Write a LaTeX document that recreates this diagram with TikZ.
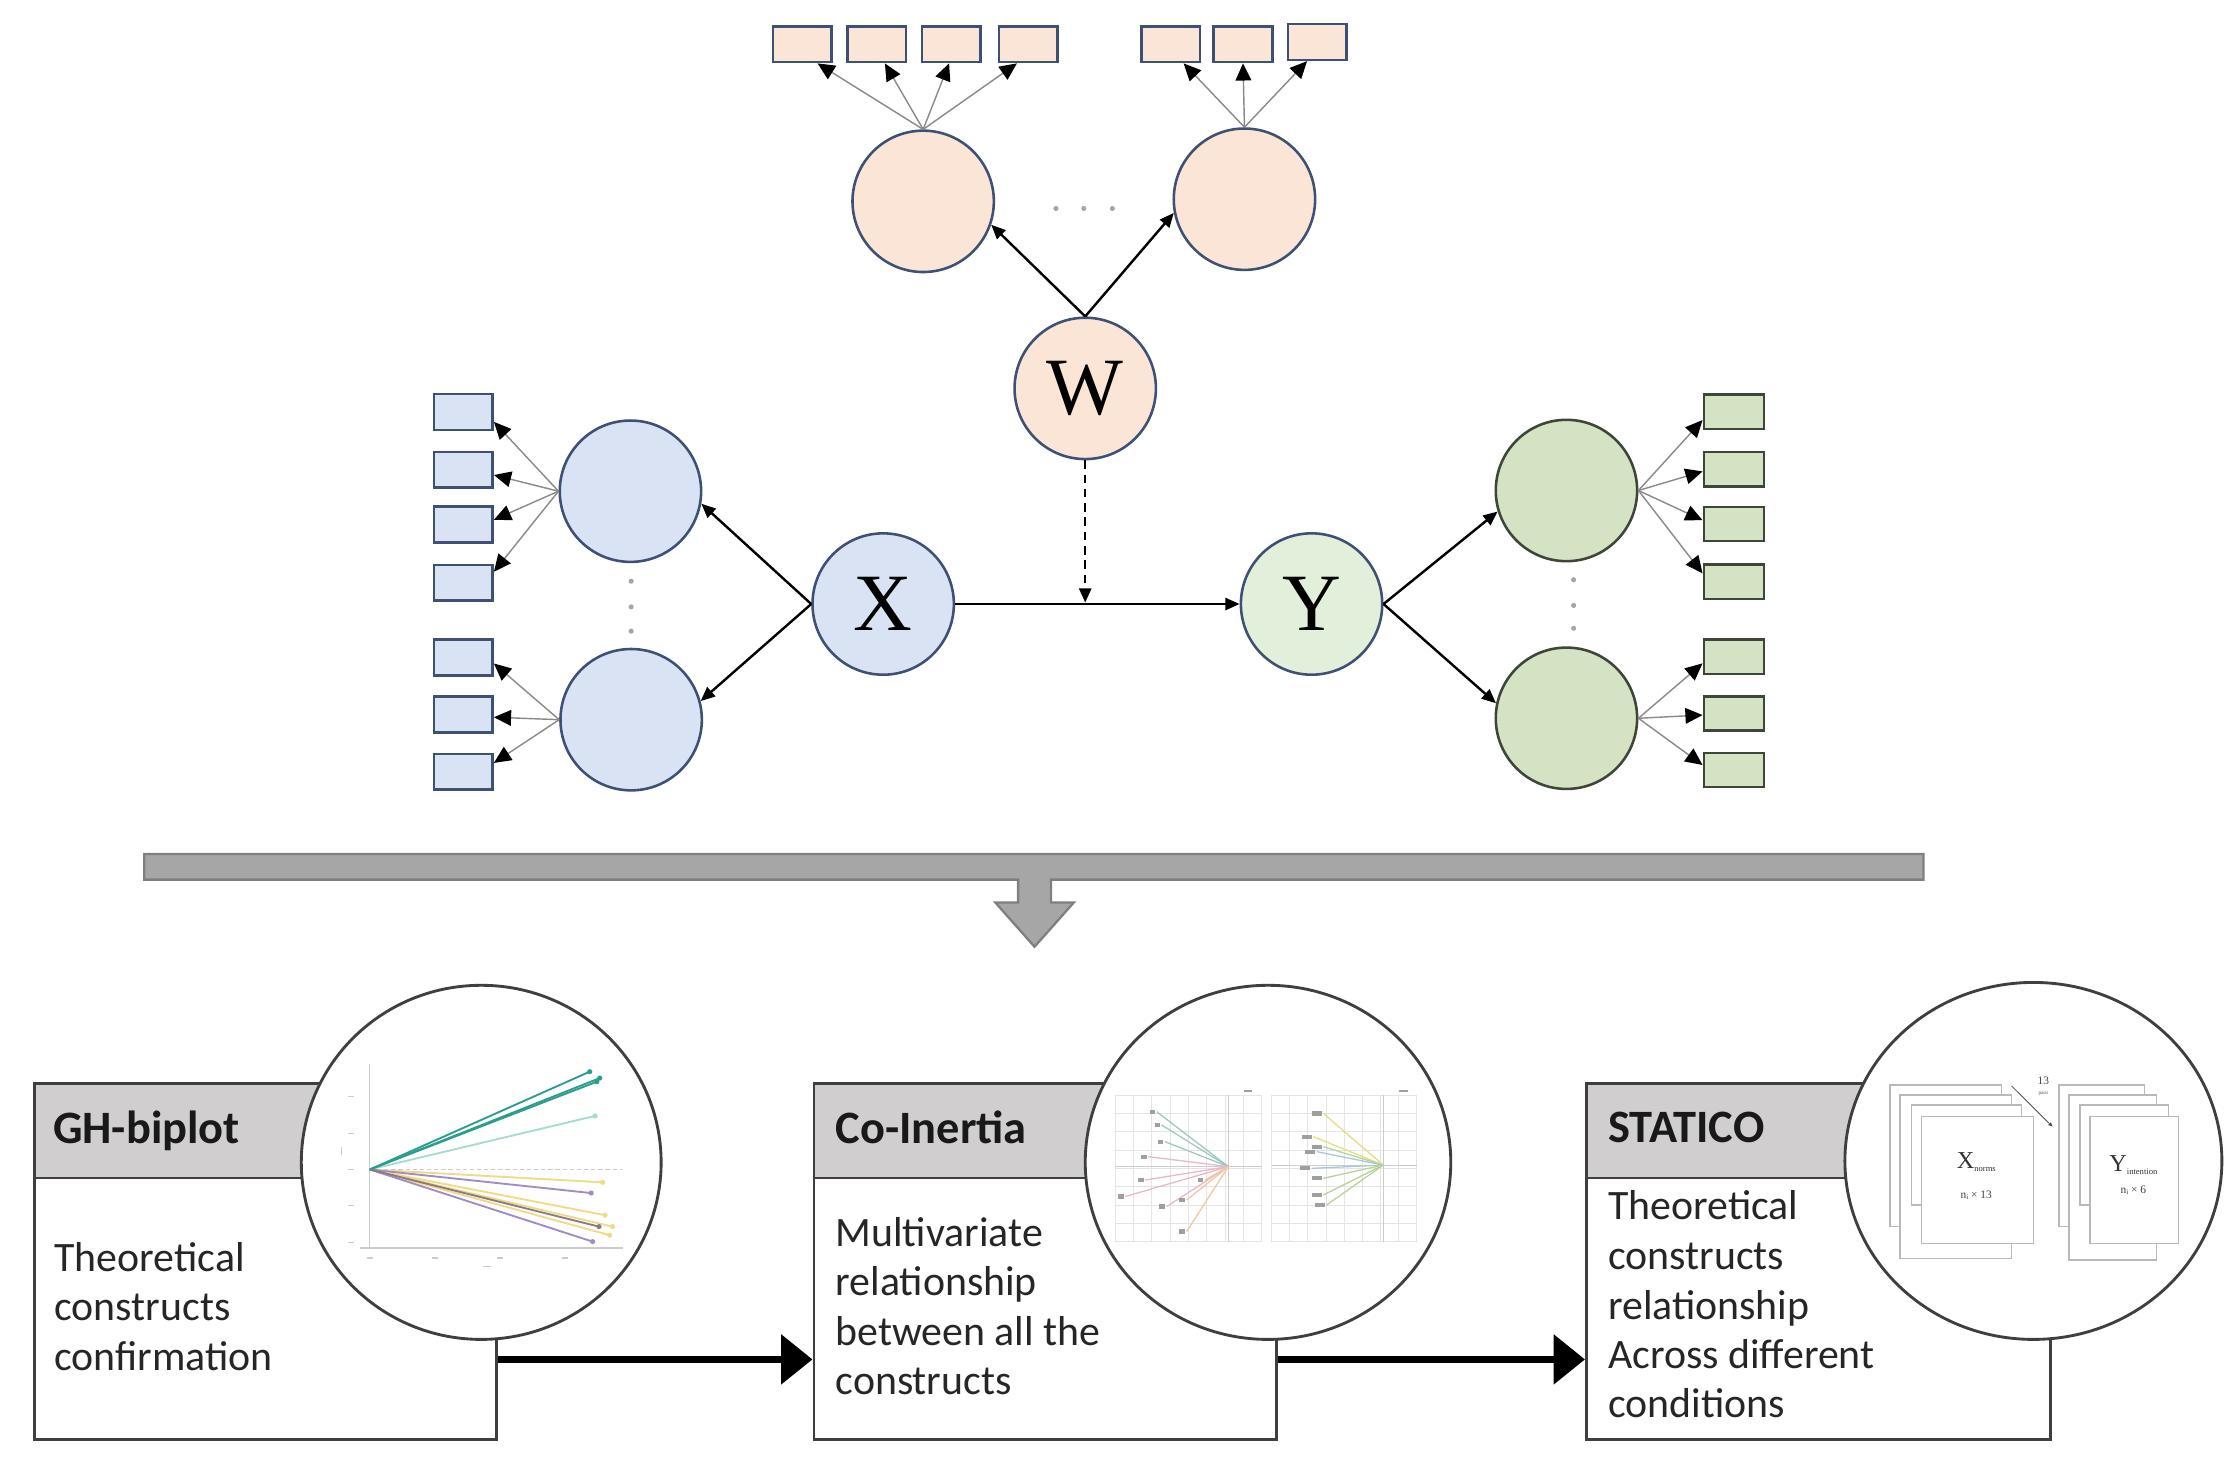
\documentclass[tikz,border=0pt]{standalone}
\usepackage{fontspec}
\setmainfont{Carlito}
\newfontfamily\serifW{Liberation Serif}
\usetikzlibrary{arrows.meta,shapes.geometric}
\definecolor{pinkf}{HTML}{FBE5D6}
\definecolor{bluef}{HTML}{DAE3F3}
\definecolor{greenf}{HTML}{D5E3C5}
\definecolor{ygreen}{HTML}{E2EFDA}
\definecolor{edgeb}{HTML}{3E5074}
\definecolor{edgeg}{HTML}{3D4638}
\definecolor{hdr}{HTML}{D0CECE}
\definecolor{bord}{HTML}{3F3F3F}
\definecolor{loadc}{HTML}{8A8A8A}
\definecolor{bannerf}{HTML}{A6A6A6}
\definecolor{bannerd}{HTML}{7F7F7F}
\definecolor{teal}{HTML}{2A9D8F}
\definecolor{lteal}{HTML}{A6DBD2}
\definecolor{ylw}{HTML}{F1DA86}
\definecolor{purp}{HTML}{9F8CC6}
\definecolor{brn}{HTML}{8C7A80}
\definecolor{gridc}{HTML}{E4E4E4}
\definecolor{ciT}{HTML}{9CCAC0}
\definecolor{ciP}{HTML}{E9B8CB}
\definecolor{ciO}{HTML}{F0C9A2}
\definecolor{ciY}{HTML}{E6DE7E}
\definecolor{ciG}{HTML}{B3D598}
\definecolor{ciB}{HTML}{A9C5E0}
\begin{document}
\begin{tikzpicture}[x=1pt,y=-1pt,
  lat/.style={circle,draw=edgeb,line width=1.8pt,inner sep=0pt,minimum size=99pt},
  latg/.style={lat,draw=edgeg,fill=greenf},
  indp/.style={rectangle,draw=edgeb,line width=1.8pt,fill=pinkf,minimum width=41pt,minimum height=25pt,inner sep=0pt},
  indb/.style={indp,fill=bluef},
  indg/.style={indp,draw=edgeg,fill=greenf,minimum width=42pt,minimum height=24pt},
  load/.style={draw=loadc,line width=1pt,-{Triangle[length=12pt,width=11pt,color=black]}},
  struct/.style={draw=black,line width=1.7pt,-{Triangle[length=10pt,width=8.5pt]}},
  bigarrow/.style={draw=black,line width=5pt,-{Triangle[length=22pt,width=34pt]}},
  boxb/.style={rectangle,draw=bord,line width=2pt,fill=white,inner sep=0pt},
  hdrb/.style={rectangle,draw=bord,line width=2pt,fill=hdr,inner sep=0pt},
  lens/.style={ellipse,draw=bord,line width=2pt,fill=white,inner sep=0pt},
  hdtext/.style={anchor=base west,inner sep=0pt,font=\fontsize{32.5}{32.5}\selectfont\bfseries,text=black!90},
  bodytext/.style={anchor=base west,inner sep=0pt,font=\fontsize{29.3}{29.3}\selectfont,text=black!85},
  letter/.style={font=\fontsize{57}{57}\selectfont\serifW},
  dotc/.style={fill=gray!70},
  mk/.style={fill=gray!75},
]
\useasboundingbox (0,0) rectangle (1568,1036);

% ---------- upper model ----------
\node[lat,fill=pinkf] (pc1) at (646.5,141) {};
\node[lat,fill=pinkf] (pc2) at (871.5,139.5) {};
\node[lat,fill=pinkf,letter] (W) at (760,272) {W};
\node[lat,fill=bluef,letter] (X) at (618.5,423) {X};
\node[lat,fill=ygreen,letter] (Y) at (918.5,423) {Y};
\node[lat,fill=bluef] (bc1) at (441.5,344) {};
\node[lat,fill=bluef] (bc2) at (442,504) {};
\node[latg] (gc1) at (1097,343.5) {};
\node[latg] (gc2) at (1097,503) {};

% pink indicators
\node[indp] (pr1) at (561.7,31) {};
\node[indp] (pr2) at (614,31) {};
\node[indp] (pr3) at (666.3,31) {};
\node[indp] (pr4) at (720.2,31) {};
\node[indp] (pr5) at (819.9,31) {};
\node[indp] (pr6) at (870.5,31) {};
\node[indp] (pr7) at (922.5,29.4) {};
% blue indicators
\foreach \n/\yy in {1/288.5,2/328.9,3/367.4,4/408.2,5/460.5,6/500.4,7/540.4}
  \node[indb] (br\n) at (324.5,\yy) {};
% green indicators
\foreach \n/\yy in {1/288.3,2/328.6,3/367,4/407.4,5/459.9,6/499.6,7/539.2}
  \node[indg] (gr\n) at (1214.2,\yy) {};

% loadings
\foreach \n/\a in {1/-51,2/-67,3/-97,4/-121}
  \draw[load] (pc1.north) -- (pr\n.\a);
\foreach \n/\a in {5/-56,6/-90,7/-118}
  \draw[load] (pc2.north) -- (pr\n.\a);
\foreach \n/\a in {1/-18,2/-10,3/9,4/20}
  \draw[load] (bc1.west) -- (br\n.\a);
\foreach \n/\a in {5/-11,6/-5,7/16}
  \draw[load] (bc2.west) -- (br\n.\a);
\foreach \n/\a in {1/195,2/184,3/173,4/165}
  \draw[load] (gc1.east) -- (gr\n.\a);
\foreach \n/\a in {5/192,6/183,7/171}
  \draw[load] (gc2.east) -- (gr\n.\a);

% structural paths
\draw[struct] (W.north) -- (pc1.-19);
\draw[struct] (W.north) -- (pc2.191);
\draw[struct] (X.west) -- (bc1.-10);
\draw[struct] (X.west) -- (bc2.15);
\draw[struct] (Y.east) -- (gc1.197);
\draw[struct] (Y.east) -- (gc2.168);
\draw[struct] (X.east) -- (Y.west);
\coordinate (mid) at (760,422);
\draw[struct,dash pattern=on 6pt off 4pt] (W.south) -- (mid);

% ellipsis dots
\foreach \xx in {739.5,759,779} \fill[dotc] (\xx,146) circle (1.8pt);
\foreach \yy in {407,425,442} \fill[dotc] (442,\yy) circle (1.8pt);
\foreach \yy in {406,424,440} \fill[dotc] (1102,\yy) circle (1.8pt);

% ---------- banner arrow ----------
\draw[fill=bannerf,draw=bannerd,line width=1.6pt,line join=miter]
  (101,598) -- (1347,598) -- (1347,616) -- (736,616) -- (736,632) -- (752,632)
  -- (724.5,663) -- (697,632) -- (713,632) -- (713,616) -- (101,616) -- cycle;

% ---------- bottom boxes ----------
\node[boxb,minimum width=324pt,minimum height=249pt,anchor=north west] (b1) at (23,758) {};
\node[hdrb,minimum width=324pt,minimum height=66pt,anchor=north west] (h1) at (23,758) {};
\node[boxb,minimum width=324pt,minimum height=249pt,anchor=north west] (b2) at (569,758) {};
\node[hdrb,minimum width=324pt,minimum height=66pt,anchor=north west] (h2) at (569,758) {};
\node[boxb,minimum width=325pt,minimum height=249pt,anchor=north west] (b3) at (1110,758) {};
\node[hdrb,minimum width=325pt,minimum height=66pt,anchor=north west] (h3) at (1110,758) {};

\node[hdtext] (t1) at (37,800.5) {GH-biplot};
\node[hdtext] (t2) at (585,800.5) {Co-Inertia};
\node[hdtext] (t3) at (1126,800) {STATICO};

\node[bodytext] (a1) at (38,890.5) {Theoretical};
\node[bodytext] (a2) at (38,925) {constructs};
\node[bodytext] (a3) at (38,959.5) {confirmation};
\node[bodytext] (m1) at (585,873) {Multivariate};
\node[bodytext] (m2) at (585,907.5) {relationship};
\node[bodytext] (m3) at (585,942) {between all the};
\node[bodytext] (m4) at (585,976.5) {constructs};
\node[bodytext] (s1) at (1126,854) {Theoretical};
\node[bodytext] (s2) at (1126,889) {constructs};
\node[bodytext] (s3) at (1126,924) {relationship};
\node[bodytext] (s4) at (1126,958.5) {Across different};
\node[bodytext] (s5) at (1126,993) {conditions};

\draw[bigarrow] ([yshift=-68.5pt]b1.east) -- ([yshift=-68.5pt]b2.west);
\draw[bigarrow] ([yshift=-68.5pt]b2.east) -- ([yshift=-68.5pt]b3.west);

\node[lens,minimum width=252pt,minimum height=248pt] (c1) at (337,814) {};
\node[lens,minimum width=256pt,minimum height=248pt] (c2) at (888,814) {};
\node[lens,minimum width=264pt,minimum height=250pt] (c3) at (1424,813) {};

% ---------- GH-biplot inset ----------
\begin{scope}[draw=gray!40,line width=0.8pt]
  \draw (259,745) -- (259,874);
  \draw (252,874) -- (436,874);
  \draw[dash pattern=on 3pt off 2pt] (259,819) -- (436,819);
  \foreach \yy in {768,793.5,819,844.5,870} \draw (244,\yy) -- (248,\yy);
  \foreach \xx in {259,304.6,350,395.6} \draw (\xx-2,881) -- (\xx+2,881);
  \draw (239,803) -- (239,809);
  \draw (338,887) -- (344,887);
\end{scope}
\foreach \ex/\ey/\cc in {416.7/781.5/lteal,422/828/ylw,429/859/ylw,427/865/ylw,423.7/851/ylw,414/835.5/purp,415/869.5/purp,419.5/859/brn,413/750.5/teal,420/755/teal,418/757.5/teal}
{
  \draw[\cc,line width=1.3pt] (259,819) -- (\ex,\ey);
  \fill[\cc] (\ex,\ey) circle (1.8pt);
}

% ---------- Co-Inertia inset ----------
\foreach \i in {0,...,8} {
  \draw[gridc,line width=0.6pt] (780.8+\i*12.84,766.8) -- (780.8+\i*12.84,869.5);
  \draw[gridc,line width=0.6pt] (780.8,766.8+\i*12.84) -- (883.5,766.8+\i*12.84);
  \draw[gridc,line width=0.6pt] (890.5+\i*12.69,766.8) -- (890.5+\i*12.69,869.5);
  \draw[gridc,line width=0.6pt] (890.5,766.8+\i*12.84) -- (992,766.8+\i*12.84);
}
\draw[gray!40,line width=0.6pt] (780.8,817) -- (883.5,817) (860.2,766.8) -- (860.2,869.5);
\draw[gray!40,line width=0.6pt] (890.5,815.9) -- (992,815.9) (968.7,766.8) -- (968.7,869.5);
\fill[mk] (871,763) rectangle (877,765);
\fill[mk] (980,763) rectangle (986,765);
\foreach \ex/\ey/\cc in {810/778.5/ciT,813.5/787.8/ciT,815.8/799.5/ciT,804.1/810/ciP,801.8/826.4/ciP,787.8/838/ciP,817/845/ciP,831/840.4/ciO,843.8/826.4/ciO,831/862.5/ciO}
{
  \draw[\cc,line width=0.9pt] (860.2,817) -- (\ex,\ey);
  \fill[mk] (\ex-5,\ey-1.5) rectangle (\ex-1,\ey+1.5);
}
\foreach \ex/\ey/\cc in {926.7/779.7/ciY,919.7/796/ciY,926.7/803/ciG,922/806.5/ciB,918.5/818.2/ciB,926.7/825.2/ciG,926.7/836.9/ciG,929/843.9/ciG}
{
  \draw[\cc,line width=0.9pt] (968.7,815.9) -- (\ex,\ey);
  \fill[mk] (\ex-8,\ey-1.5) rectangle (\ex-1,\ey+1.5);
}

% ---------- STATICO inset ----------
\begin{scope}[draw=gray!55,line width=0.9pt,fill=white]
  \filldraw (1323.5,759.8) rectangle (1401.7,859);
  \filldraw (1330.5,766.8) rectangle (1408.7,881.2);
  \filldraw (1338.7,773.8) rectangle (1415.7,843.9);
  \filldraw (1345.7,782) rectangle (1423.9,870.7);
  \filldraw (1442,759.8) rectangle (1502,859);
  \filldraw (1449,766.8) rectangle (1510.3,882.4);
  \filldraw (1456.6,773.8) rectangle (1518.4,843.9);
  \filldraw (1463.6,782) rectangle (1525.4,870.7);
\end{scope}
\coordinate (sa) at (1408.7,760.5);
\coordinate (sb) at (1437.4,789);
\draw[gray!60!black,line width=0.6pt,-{Triangle[length=3pt,width=2.5pt]}] (sa) -- (sb);
\node[font=\fontsize{8}{8}\selectfont\serifW,text=gray!60!black,inner sep=0pt] (n13) at (1431,757) {13};
\node[font=\fontsize{3.5}{3.5}\selectfont\serifW,text=gray!60!black,inner sep=0pt] (npairs) at (1431,766) {pairs};
\node[font=\fontsize{17}{17}\selectfont\serifW,text=gray!40!black,inner sep=0pt] (xn) at (1384,814)
  {X\raisebox{-2pt}{\fontsize{6}{6}\selectfont norms}};
\node[font=\fontsize{8}{8}\selectfont\serifW,text=gray!50!black,inner sep=0pt] (xd) at (1384,837)
  {n\raisebox{-1pt}{\fontsize{5}{5}\selectfont i} × 13};
\node[font=\fontsize{17}{17}\selectfont\serifW,text=gray!40!black,inner sep=0pt] (yn) at (1494,816)
  {Y\raisebox{-2pt}{\fontsize{6}{6}\selectfont intention}};
\node[font=\fontsize{8}{8}\selectfont\serifW,text=gray!50!black,inner sep=0pt] (yd) at (1494,833.5)
  {n\raisebox{-1pt}{\fontsize{5}{5}\selectfont i} × 6};
\end{tikzpicture}
\end{document}
